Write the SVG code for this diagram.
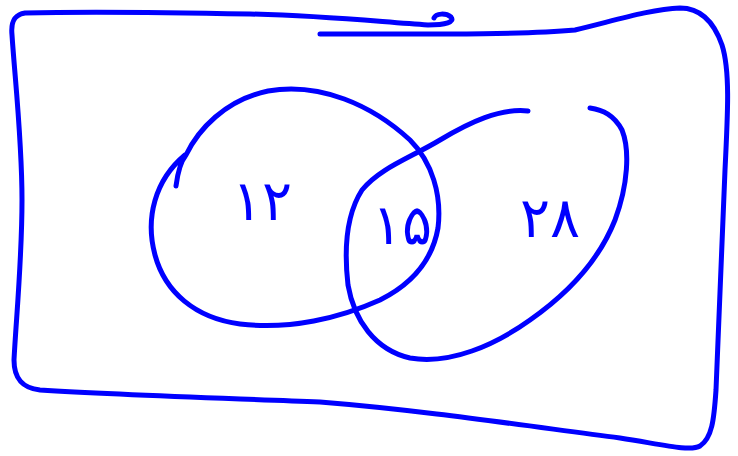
<svg xmlns="http://www.w3.org/2000/svg" width="738" height="456" viewBox="0 0 738 456">
<style>
.s{fill:none;stroke:#0000ff;stroke-width:5;stroke-linecap:round;stroke-linejoin:round}
.t{fill:#0000ff;font-family:"DejaVu Sans","Noto Sans",sans-serif;font-size:56px;text-anchor:middle}
</style>
<rect width="738" height="456" fill="#ffffff"/>
<g id="universe">
<path class="s" d="M434,18 C436,13 446,13 451,17 C455,22 446,25 428,25 M428,25 C380,22 330,16 250,14 C150,12 60,12 25,13 C12,15 11,25 12,35 C15,80 22,140 22,200 C22,260 16,320 14,360 C14,378 22,388 40,390 C120,395 220,398 320,402 C420,410 520,425 620,438 C660,444 690,452 700,446 C712,438 714,420 716,390 C718,330 722,250 725,170 C728,110 730,70 722,45 C714,22 700,8 680,8 C650,9 610,22 575,30 C520,35 420,34 320,34"/>
</g>
<g id="setA">
<path class="s" d="M176,186 C178,170 182,160 186,155 C198,130 225,100 268,91 C320,82 372,105 410,140 C432,162 442,195 438,228 C432,262 410,285 380,300 C340,318 290,330 240,324 C195,318 165,292 155,255 C145,218 155,180 185,155"/>
<text class="t" x="262" y="220">۱۲</text>
<text class="t" x="402" y="244">۱۵</text>
</g>
<g id="setB">
<path class="s" d="M528,111 C500,108 470,122 440,140 C410,158 380,168 362,190 C346,215 344,250 348,285 C354,320 375,350 410,358 C450,365 495,345 530,320 C570,292 600,258 615,220 C628,185 630,150 622,130 C614,115 603,110 590,108"/>
<text class="t" x="550" y="237">۲۸</text>
</g>
<g id="connectors"></g>
</svg>
